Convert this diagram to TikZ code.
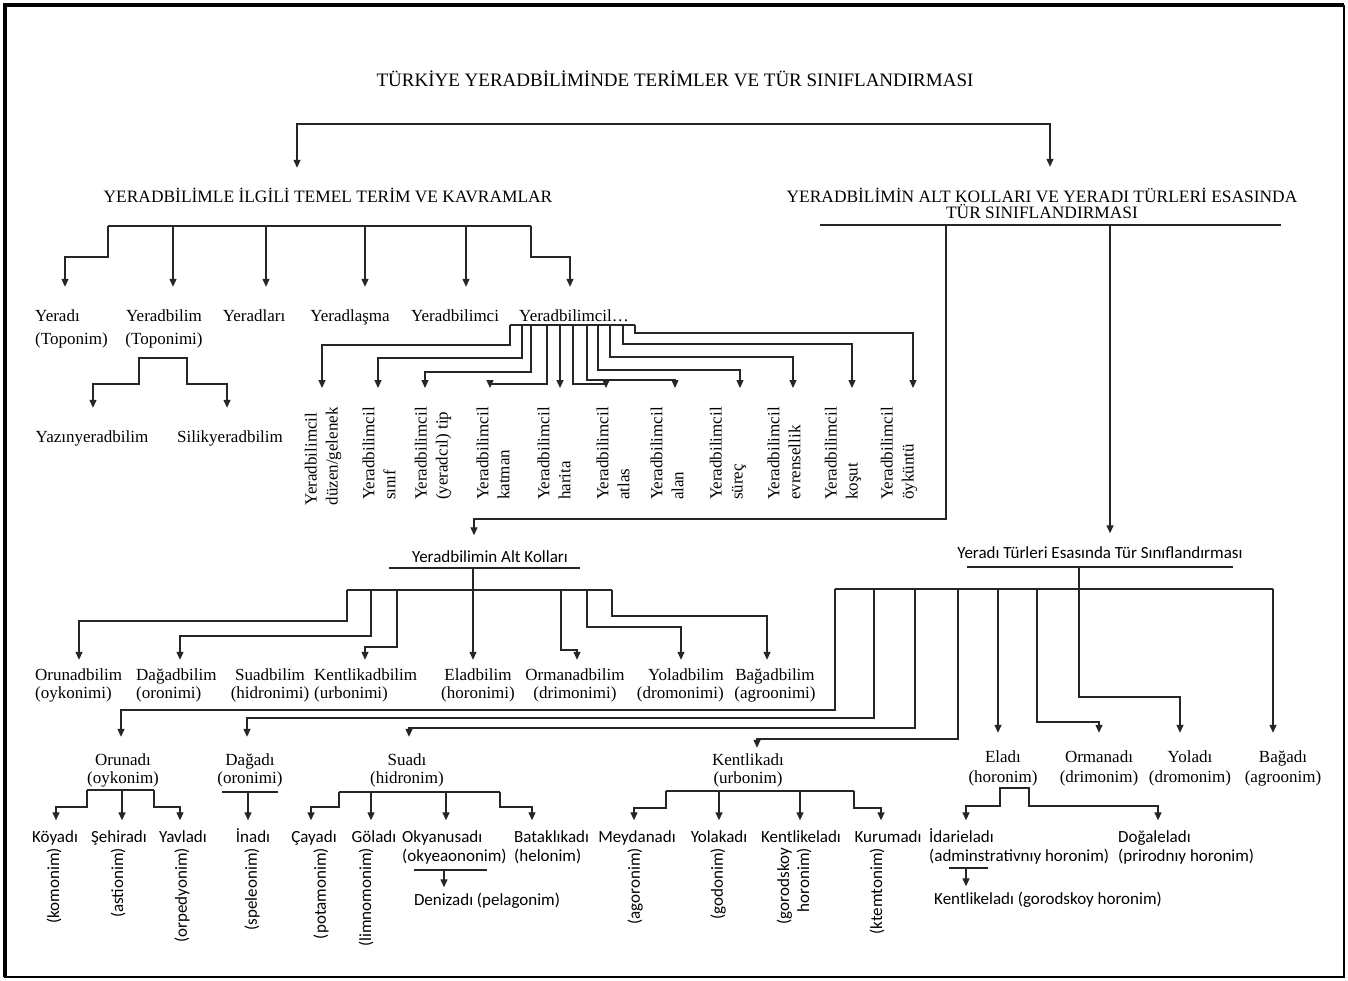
\documentclass[tikz,border=0pt]{standalone}
\usepackage{fontspec}
\setmainfont{Liberation Serif}
\newfontfamily\calfont{Carlito}
\usetikzlibrary{arrows.meta}
\begin{document}
\begin{tikzpicture}[x=1pt,y=-1pt,
  ln/.style={draw=black!85, line width=1.3pt},
  arr/.style={ln, -{Triangle[length=8pt,width=7pt]}},
  ser/.style={font=\fontsize{17}{19}\selectfont, inner xsep=0pt, inner ysep=#1, text height=12pt, text depth=4pt, anchor=base, align=center},
  ser/.default=12pt,
  san/.style={font=\calfont\fontsize{17}{19}\selectfont, inner xsep=0pt, inner ysep=#1, text height=11.5pt, text depth=4pt, anchor=base, align=center},
  san/.default=10pt,
  hd/.style={font=\fontsize{17.4}{16.5}\selectfont, inner xsep=0pt, inner ysep=#1, text height=12pt, text depth=4pt, anchor=base, align=center},
  hd/.default=22pt,
  rot/.style={font=\fontsize{17}{21}\selectfont, rotate=90, anchor=east, inner ysep=0pt, inner xsep=19pt, align=left},
  rotb/.style={font=\calfont\fontsize{17}{20}\selectfont, rotate=90, anchor=east, inner sep=0pt, align=right}
]
\useasboundingbox (0,0) rectangle (1348,980);
\fill[white] (0,0) rectangle (1348,980);
% frame
\draw[line width=4pt] (5,977) -- (5,5) -- (1344,5);
\draw[line width=2pt] (1344,5) -- (1344,977) -- (4,977);

% title and headings
\node[font=\fontsize{19}{22}\selectfont, anchor=base, inner sep=0pt] (title) at (675,86) {TÜRKİYE YERADBİLİMİNDE TERİMLER VE TÜR SINIFLANDIRMASI};
\node[hd=22pt] (h1) at (328,202) {YERADBİLİMLE İLGİLİ TEMEL TERİM VE KAVRAMLAR};
\node[hd=23pt, text height=28.5pt] (h2) at (1042,218.5) {YERADBİLİMİN ALT KOLLARI VE YERADI TÜRLERİ ESASINDA\\TÜR SINIFLANDIRMASI};
\coordinate (tb) at (675,124);
\draw[arr] (tb) -| (297,0 |- h1.north);
\draw[arr] (tb) -| (1050,0 |- h2.north);
\draw[ln] (820,225) -- (1281,225);

% level 1
\node[ser=22pt, font=\fontsize{17}{23}\selectfont, text height=35pt, anchor=base west, align=left] (yeradi) at (35,344) {Yeradı\\(Toponim)};
\node[ser=22pt, font=\fontsize{17}{23}\selectfont, text height=35pt] (ybilim) at (164,344) {Yeradbilim\\(Toponimi)};
\node[ser=22pt] (ylari) at (254,321) {Yeradları};
\node[ser=22pt] (ylasma) at (350,321) {Yeradlaşma};
\node[ser=22pt] (yci) at (455,321) {Yeradbilimci};
\node[ser=22pt, anchor=base west] (ycil) at (519,321) {Yeradbilimcil…};
\draw[ln] (108,226) -- (531,226);
\draw[arr] (108,226) |- (65,257) -- (65,0 |- yeradi.north);
\draw[arr] (173,226) -- (173,0 |- ybilim.north);
\draw[arr] (266,226) -- (266,0 |- ylari.north);
\draw[arr] (365,226) -- (365,0 |- ylasma.north);
\draw[arr] (466,226) -- (466,0 |- yci.north);
\draw[arr] (531,226) |- (570,257) -- (570,0 |- ycil.north);

% Yeradbilim subtree
\node[ser=22pt] (yazin) at (92,442) {Yazınyeradbilim};
\node[ser=22pt] (silik) at (230,442) {Silikyeradbilim};
\coordinate (yb) at (163,358);
\draw[arr] (yb) -- (139,358) |- (93,384) -- (93,0 |- yazin.north);
\draw[arr] (yb) -- (187,358) |- (227,384) -- (227,0 |- silik.north);

% Yeradbilimcil subtree
\node[rot] (r1) at (323,388) {Yeradbilimcil\\düzen/gelenek};
\node[rot] (r2) at (379,388) {Yeradbilimcil\\sınıf};
\node[rot] (r3) at (433,388) {Yeradbilimcil\\(yeradcıl) tip};
\node[rot] (r4) at (493,388) {Yeradbilimcil\\katman};
\node[rot] (r5) at (554,388) {Yeradbilimcil\\harita};
\node[rot] (r6) at (613,388) {Yeradbilimcil\\atlas};
\node[rot] (r7) at (667,388) {Yeradbilimcil\\alan};
\node[rot] (r8) at (728,388) {Yeradbilimcil\\süreç};
\node[rot] (r9) at (784,388) {Yeradbilimcil\\evrensellik};
\node[rot] (r10) at (843,388) {Yeradbilimcil\\koşut};
\node[rot] (r11) at (899,388) {Yeradbilimcil\\öyküntü};
\draw[ln] (510,325) -- (635,325);
\draw[arr] (510,325) |- (322,345) -- (322,0 |- r1.east);
\draw[arr] (522,325) |- (378,358) -- (378,0 |- r2.east);
\draw[arr] (531,325) |- (425,372) -- (425,0 |- r3.east);
\draw[arr] (547,325) |- (490,384) -- (490,0 |- r4.east);
\draw[arr] (560,325) -- (560,0 |- r5.east);
\draw[arr] (573,325) |- (606,384) -- (606,0 |- r6.east);
\draw[arr] (587,325) |- (675,380) -- (675,0 |- r7.east);
\draw[arr] (598,325) |- (740,370) -- (740,0 |- r8.east);
\draw[arr] (610,325) |- (793,357) -- (793,0 |- r9.east);
\draw[arr] (623,325) |- (852,344) -- (852,0 |- r10.east);
\draw[arr] (635,325) |- (913,333) -- (913,0 |- r11.east);

% second level headers
\node[san=15pt] (altk) at (490,562) {Yeradbilimin Alt Kolları};
\node[san=13pt] (turl) at (1100,558) {Yeradı Türleri Esasında Tür Sınıflandırması};
\draw[arr] (946,225) |- (474,519) -- (474,0 |- altk.north);
\draw[arr] (1110,225) -- (1110,0 |- turl.north);
\draw[ln] (389,568) -- (580,568);
\draw[ln] (967,567) -- (1233,567);

% Alt Kollari children
\tikzset{lvtwo/.style={ser=8pt, font=\fontsize{17}{18}\selectfont, text height=30pt}}
\node[lvtwo, anchor=base west, align=left] (orunb) at (35,698) {Orunadbilim\\(oykonimi)};
\node[lvtwo, anchor=base west, align=left] (dagb) at (136,698) {Dağadbilim\\(oronimi)};
\node[lvtwo] (suab) at (270,698) {Suadbilim\\(hidronimi)};
\node[lvtwo, anchor=base west, align=left] (kentb) at (314,698) {Kentlikadbilim\\(urbonimi)};
\node[lvtwo] (eladb) at (478,698) {Eladbilim\\(horonimi)};
\node[lvtwo] (ormb) at (575,698) {Ormanadbilim\\(drimonimi)};
\node[lvtwo, anchor=base east, align=right] (yolb) at (724,698) {Yoladbilim\\(dromonimi)};
\node[lvtwo] (bagb) at (775,698) {Bağadbilim\\(agroonimi)};
\draw[ln] (347,590) -- (612,590);
\draw[arr] (473,568) -- (473,0 |- eladb.north);
\draw[arr] (347,590) |- (79,621) -- (79,0 |- orunb.north);
\draw[arr] (371,590) |- (180,636) -- (180,0 |- dagb.north);
\draw[arr] (397,590) |- (365,647) -- (365,0 |- kentb.north);
\draw[arr] (561,590) |- (577,650) -- (577,0 |- ormb.north);
\draw[arr] (587,590) |- (681,627) -- (681,0 |- yolb.north);
\draw[arr] (612,590) |- (767,616) -- (767,0 |- bagb.north);

% Turleri children
\tikzset{lvthree/.style={ser=#1, font=\fontsize{17}{18}\selectfont, text height=30pt}}
\tikzset{lvthr/.style={ser=17pt, font=\fontsize{17}{20}\selectfont, text height=32pt}}
\node[lvthree=16pt] (orunadi) at (123,783) {Orunadı\\(oykonim)};
\node[lvthree=16pt] (dagadi) at (250,783) {Dağadı\\(oronimi)};
\node[lvthree=16pt] (suadi) at (407,783) {Suadı\\(hidronim)};
\node[lvthree=5pt] (kentadi) at (748,783) {Kentlikadı\\(urbonim)};
\node[lvthr] (eladi) at (1003,782) {Eladı\\(horonim)};
\node[lvthr] (ormadi) at (1099,782) {Ormanadı\\(drimonim)};
\node[lvthr] (yoladi) at (1190,782) {Yoladı\\(dromonim)};
\node[lvthr] (bagadi) at (1283,782) {Bağadı\\(agroonim)};
\draw[ln] (835,589) -- (1273,589);
\draw[arr] (1079,567) |- (1180,697) -- (1180,0 |- yoladi.north);
\draw[arr] (835,589) |- (121,710) -- (121,0 |- orunadi.north);
\draw[arr] (874,589) |- (247,718) -- (247,0 |- dagadi.north);
\draw[arr] (915,589) |- (409,728) -- (409,0 |- suadi.north);
\draw[arr] (958,589) |- (757,739) -- (757,0 |- kentadi.north);
\draw[arr] (998,589) -- (998,0 |- eladi.north);
\draw[arr] (1037,589) |- (1099,722) -- (1099,0 |- ormadi.north);
\draw[arr] (1273,589) -- (1273,0 |- bagadi.north);

% bottom level
\tikzset{santwo/.style={san, font=\calfont\fontsize{17}{19}\selectfont, text height=30.5pt, anchor=base west, align=left}}
\node[san] (koy) at (55,842) {Köyadı};
\node[san] (seh) at (119,842) {Şehiradı};
\node[san] (yav) at (183,842) {Yavladı};
\node[san] (inadi) at (253,842) {İnadı};
\node[san] (cay) at (314,842) {Çayadı};
\node[san] (gol) at (374,842) {Göladı};
\node[santwo] (okya) at (402,861) {Okyanusadı\\(okyeaononim)};
\node[santwo] (batak) at (514,861) {Bataklıkadı\\(helonim)};
\node[san] (meyd) at (637,842) {Meydanadı};
\node[san] (yolak) at (719,842) {Yolakadı};
\node[san] (kentel) at (801,842) {Kentlikeladı};
\node[san] (kurum) at (888,842) {Kurumadı};
\node[santwo] (idari) at (929,861) {İdarieladı\\(adminstrativnıy horonim)};
\node[santwo] (doga) at (1118,861) {Doğaleladı\\(prirodnıy horonim)};
\node[san=6pt] (deniz) at (487,905) {Denizadı (pelagonim)};
\node[san=6pt] (kentel2) at (1048,904) {Kentlikeladı (gorodskoy horonim)};

\node[rotb] (komo) at (54,848) {(komonim)};
\node[rotb] (asti) at (118,848) {(astionim)};
\node[rotb] (orpe) at (182,848) {(orpedyonim)};
\node[rotb] (spel) at (252,848) {(speleonim)};
\node[rotb] (pota) at (321,848) {(potamonim)};
\node[rotb] (limn) at (366,848) {(limnomonim)};
\node[rotb] (agor) at (635,848) {(agoronim)};
\node[rotb] (godo) at (718,848) {(godonim)};
\node[rotb] (goro) at (794,848) {(gorodskoy\\horonim)};
\node[rotb] (ktem) at (877,848) {(ktemtonim)};

% Orunadi subtree
\draw[ln] (87,790) -- (154,790);
\draw[arr] (87,790) |- (56,807) -- (56,0 |- koy.north);
\draw[arr] (122,790) -- (122,0 |- seh.north);
\draw[arr] (154,790) |- (180,807) -- (180,0 |- yav.north);
% Dagadi subtree
\draw[ln] (222,792) -- (278,792);
\draw[arr] (248,792) -- (248,0 |- inadi.north);
% Suadi subtree
\draw[ln] (339,792) -- (500,792);
\draw[arr] (339,792) |- (311,807) -- (311,0 |- cay.north);
\draw[arr] (371,792) -- (371,0 |- gol.north);
\draw[arr] (446,792) -- (446,0 |- okya.north);
\draw[arr] (500,792) |- (532,807) -- (532,0 |- batak.north);
\draw[ln] (414,870) -- (487,870);
\draw[arr] (444,870) -- (444,0 |- deniz.north);
% Kentlikadi subtree
\draw[ln] (666,791) -- (854,791);
\draw[arr] (666,791) |- (634,808) -- (634,0 |- meyd.north);
\draw[arr] (719,791) -- (719,0 |- yolak.north);
\draw[arr] (800,791) -- (800,0 |- kentel.north);
\draw[arr] (854,791) |- (881,808) -- (881,0 |- kurum.north);
% Eladi subtree
\coordinate (eb) at (1014,788);
\draw[arr] (eb) -- (1000,788) |- (966,806) -- (966,0 |- idari.north);
\draw[arr] (eb) -- (1029,788) |- (1158,806) -- (1158,0 |- doga.north);
\draw[ln] (949,868) -- (988,868);
\draw[arr] (966,868) -- (966,0 |- kentel2.north);
\end{tikzpicture}
\end{document}
